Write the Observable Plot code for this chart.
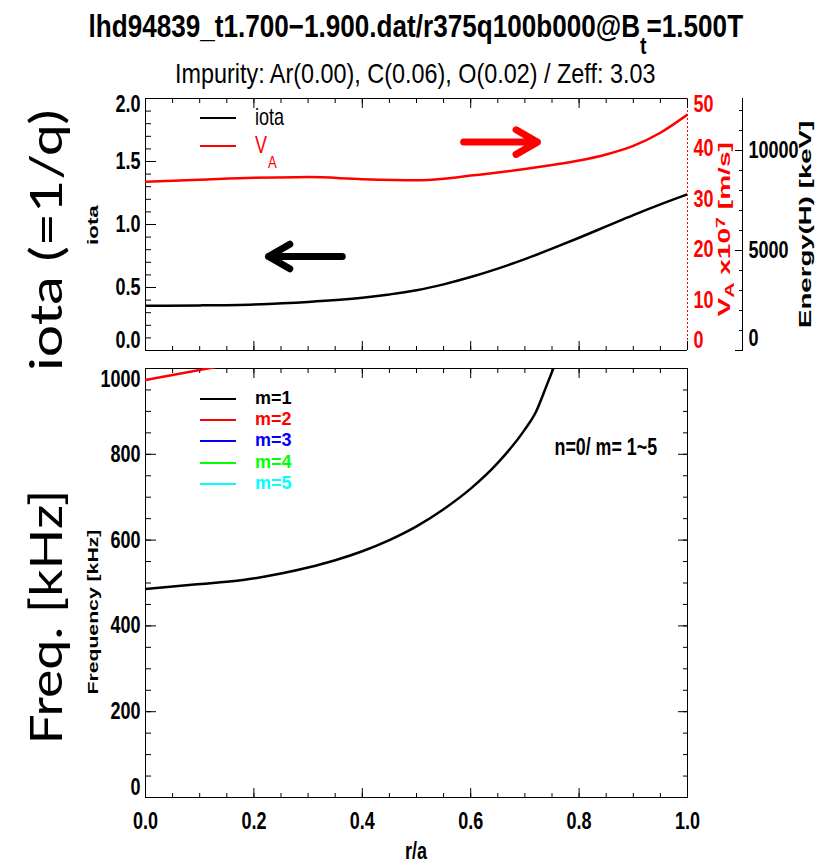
<!DOCTYPE html>
<html><head><meta charset="utf-8">
<script src="https://cdn.jsdelivr.net/npm/d3@7"></script>
<script src="https://cdn.jsdelivr.net/npm/@observablehq/plot@0.6"></script>
<style>
html,body{margin:0;padding:0;background:#fff;}
#wrap{position:relative;width:833px;height:865px;overflow:hidden;background:#fff;}
#wrap svg{position:absolute;left:0;}
</style></head>
<body><div id="wrap"></div>
<script>
// ---------- data ----------
const rhoIota = [0, 0.1, 0.2, 0.3, 0.4, 0.45, 0.5, 0.55, 0.6, 0.65, 0.7, 0.75, 0.8, 0.85, 0.9, 0.95, 1.0];
const iota    = [0.355, 0.358, 0.366, 0.385, 0.418, 0.445, 0.478, 0.525, 0.583, 0.65, 0.725, 0.808, 0.895, 0.985, 1.075, 1.16, 1.24];

const rhoVA = [0, 0.1, 0.2, 0.3, 0.4, 0.5, 0.55, 0.6, 0.65, 0.7, 0.75, 0.8, 0.85, 0.9, 0.95, 1.0];
const vA    = [33.5, 33.9, 34.3, 34.4, 34.0, 33.8, 34.1, 34.7, 35.3, 36.0, 36.8, 37.7, 38.9, 40.6, 43.2, 46.8];

const rhoM1 = [0, 0.09, 0.18, 0.25, 0.3, 0.35, 0.4, 0.45, 0.5, 0.55, 0.6, 0.65, 0.7, 0.72, 0.74, 0.76, 0.78];
const freqM1 = [486, 496.5, 507, 522, 536, 553, 574, 600, 632, 672, 720, 780, 858, 898, 960, 1025, 1095];

const rhoM2 = [0, 0.2];
const freqM2 = [973, 1020];

const xMajor = [0, 0.2, 0.4, 0.6, 0.8, 1.0];
const iotaMajor = [0, 0.5, 1.0, 1.5, 2.0];
const vaMajor = [0, 10, 20, 30, 40, 50];
const energyMajor = [0, 5000, 10000];
const freqMajor = [0, 200, 400, 600, 800, 1000];

const legendTop = ["iota", "V"];
const legendTopColors = ["black", "red"];
const modeNames = ["m=1", "m=2", "m=3", "m=4", "m=5"];
const modeColors = ["black", "red", "blue", "#00ff00", "#00ffff"];

const arrowsX1 = [0.587, 0.363];
const arrowsX2 = [0.723, 0.227];
const arrowsY  = [1.654, 0.746];
const arrowsColor = ["red", "black"];

// ---------- helpers ----------
const wrap = document.getElementById("wrap");
const FONT = "'Liberation Sans', Arial, sans-serif";
const SY = 1.3;
const xMinor = d3.range(0, 1.0001, 0.05);
const iotaMinor = d3.range(0, 2.0001, 0.1);
const energyMinor = d3.range(0, 12600, 1000);
const freqMinor = d3.range(0, 1000.1, 50);

const iotaData = rhoIota.map((r, i) => ({r, v: iota[i]}));
const vaData = rhoVA.map((r, i) => ({r, v: vA[i]}));
const m1Data = rhoM1.map((r, i) => ({r, f: freqM1[i]}));
const m2Data = rhoM2.map((r, i) => ({r, f: freqM2[i]}));
const arrowData = arrowsX1.map((x1, i) => ({x1, x2: arrowsX2[i], y: arrowsY[i], c: arrowsColor[i]}));

const baseStyle = {fontFamily: FONT, fontSize: "18px", fontWeight: "bold", background: "transparent", overflow: "visible", color: "black"};
const noLab = {tickFormat: () => "", label: null};

function stretchText(svg, sy) {
  svg.querySelectorAll("text").forEach(t => {
    const tr = t.getAttribute("transform") || "";
    t.setAttribute("transform", tr + ` scale(1,${sy})`);
  });
}
function place(svg, top) {
  stretchText(svg, SY);
  svg.style.top = top + "px";
  wrap.appendChild(svg);
}
function txt(html, o) {
  const d = document.createElement("div");
  d.innerHTML = html;
  Object.assign(d.style, {position: "absolute", left: o.x + "px", top: o.y + "px", whiteSpace: "nowrap",
    fontFamily: o.family || FONT, fontSize: (o.size || 18) + "px", fontWeight: o.weight || "bold",
    color: o.color || "black", lineHeight: "1", transformOrigin: "0 0"});
  wrap.appendChild(d);
  const w = d.offsetWidth, h = d.offsetHeight;
  const sx = o.len ? o.len / w : 1;
  const sy = o.sy || 1;
  const ax = o.anchor === "start" ? 0 : -w / 2;
  d.style.transform = `${o.rotate ? "rotate(-90deg) " : ""}scale(${sx},${sy}) translate(${ax}px,${-h / 2}px)`;
}
function hline(x1, x2, y, color, w) {
  const d = document.createElement("div");
  Object.assign(d.style, {position: "absolute", left: x1 + "px", top: (y - w / 2) + "px", width: (x2 - x1) + "px", height: w + "px", background: color});
  wrap.appendChild(d);
}

// ---------- top panel (iota) ----------
const topH = 290, topOff = 80;
const topDims = {width: 833, height: topH, marginTop: 18, marginBottom: 20, marginLeft: 145, marginRight: 146};
const fmt1 = d3.format(".1f"), fmtD = d3.format("d");

const topBase = Plot.plot({
  ...topDims,
  x: {domain: [0, 1]}, y: {domain: [0, 2]},
  style: baseStyle,
  marks: [
    Plot.ruleY([2], {stroke: "black"}),
    Plot.ruleY([0], {stroke: "black"}),
    Plot.ruleX([0], {stroke: "black"}),
    Plot.ruleX([1], {stroke: "red", strokeDasharray: "2,2"}),
    Plot.axisX(xMinor, {anchor: "top", tickSize: -4, ...noLab}),
    Plot.axisX(xMajor, {anchor: "top", tickSize: -9, ...noLab}),
    Plot.axisX(xMinor, {anchor: "bottom", tickSize: -4, ...noLab}),
    Plot.axisX(xMajor, {anchor: "bottom", tickSize: -9, ...noLab}),
    Plot.axisY(iotaMinor, {anchor: "left", tickSize: -6, ...noLab}),
    Plot.axisY(iotaMajor, {anchor: "left", tickSize: -11, ...noLab}),
    Plot.axisY(iotaMajor.slice(1, -1), {anchor: "left", tickSize: 0, tickPadding: 5, tickFormat: fmt1, label: null}),
    Plot.axisY([iotaMajor[iotaMajor.length - 1]], {anchor: "left", tickSize: 0, tickPadding: 5, tickFormat: fmt1, label: null, dy: 6}),
    Plot.axisY([iotaMajor[0]], {anchor: "left", tickSize: 0, tickPadding: 5, tickFormat: fmt1, label: null, dy: -10}),
    Plot.line(iotaData, {x: "r", y: "v", stroke: "black", strokeWidth: 2.5, curve: "monotone-x", clip: true}),
    Plot.arrow(arrowData, {x1: "x1", x2: "x2", y1: "y", y2: "y", stroke: "c", strokeWidth: 7, headLength: 5.4, headAngle: 60, strokeLinecap: "round", strokeLinejoin: "round"})
  ]
});
place(topBase, topOff);

const topVA = Plot.plot({
  ...topDims,
  x: {domain: [0, 1], axis: null}, y: {domain: [0, 50]},
  style: baseStyle,
  marks: [
    Plot.line(vaData, {x: "r", y: "v", stroke: "red", strokeWidth: 2.5, curve: "monotone-x", clip: true}),
    Plot.axisY(vaMajor.slice(1, -1), {anchor: "right", tickSize: 0, tickPadding: 6, fill: "red", label: null}),
    Plot.axisY([vaMajor[vaMajor.length - 1]], {anchor: "right", tickSize: 0, tickPadding: 6, fill: "red", label: null, dy: 6}),
    Plot.axisY([vaMajor[0]], {anchor: "right", tickSize: 0, tickPadding: 6, fill: "red", label: null, dy: -10})
  ]
});
place(topVA, topOff);

const topE = Plot.plot({
  ...topDims, marginRight: 91,
  x: {domain: [0, 1], axis: null}, y: {domain: [0, 12600]},
  style: baseStyle,
  marks: [
    Plot.ruleX([1], {stroke: "black"}),
    Plot.axisY(energyMinor, {anchor: "right", tickSize: -4, ...noLab}),
    Plot.axisY(energyMajor, {anchor: "right", tickSize: -8, ...noLab}),
    Plot.axisY(energyMajor.slice(1), {anchor: "right", tickSize: 0, tickPadding: 6, tickFormat: fmtD, label: null}),
    Plot.axisY([energyMajor[0]], {anchor: "right", tickSize: 0, tickPadding: 6, tickFormat: fmtD, label: null, dy: -12})
  ]
});
place(topE, topOff);

// ---------- bottom panel (frequency) ----------
const botOff = 350;
const bot = Plot.plot({
  width: 833, height: 500, marginTop: 18, marginBottom: 53, marginLeft: 145, marginRight: 146,
  x: {domain: [0, 1]}, y: {domain: [0, 1000]},
  style: baseStyle,
  marks: [
    Plot.frame({stroke: "black"}),
    Plot.axisX(xMinor, {anchor: "top", tickSize: -4, ...noLab}),
    Plot.axisX(xMajor, {anchor: "top", tickSize: -9, ...noLab}),
    Plot.axisX(xMinor, {anchor: "bottom", tickSize: -4, ...noLab}),
    Plot.axisX(xMajor, {anchor: "bottom", tickSize: -9, ...noLab}),
    Plot.axisX(xMajor, {anchor: "bottom", tickSize: 0, tickPadding: 15, tickFormat: fmt1, label: null}),
    Plot.axisY(freqMinor, {anchor: "left", tickSize: -6, ...noLab}),
    Plot.axisY(freqMajor, {anchor: "left", tickSize: -11, ...noLab}),
    Plot.axisY(freqMinor, {anchor: "right", tickSize: -5, ...noLab}),
    Plot.axisY(freqMajor, {anchor: "right", tickSize: -10, ...noLab}),
    Plot.axisY(freqMajor.slice(1, -1), {anchor: "left", tickSize: 0, tickPadding: 5, tickFormat: fmtD, label: null}),
    Plot.axisY([freqMajor[freqMajor.length - 1]], {anchor: "left", tickSize: 0, tickPadding: 5, tickFormat: fmtD, label: null, dy: 11}),
    Plot.axisY([freqMajor[0]], {anchor: "left", tickSize: 0, tickPadding: 5, tickFormat: fmtD, label: null, dy: -10}),
    Plot.line(m2Data, {x: "r", y: "f", stroke: "red", strokeWidth: 2.5, clip: true}),
    Plot.line(m1Data, {x: "r", y: "f", stroke: "black", strokeWidth: 2.5, curve: "monotone-x", clip: true})
  ]
});
place(bot, botOff);

// ---------- texts ----------
txt('lhd94839_t1.700\u22121.900.dat/r375q100b000@B<span style="position:relative;top:0.75em;font-size:0.75em">t</span>=1.500T',
  {x: 416, y: 27, size: 22, weight: "bold", sy: 1.4, len: 655});
txt('Impurity: Ar(0.00), C(0.06), O(0.02) / Zeff: 3.03', {x: 415, y: 73, size: 19, weight: "normal", sy: 1.5, len: 480});

txt('iota (=1/q)', {x: 45, y: 240, size: 44, family: "Lato, 'Open Sans', sans-serif", weight: "normal", rotate: true, len: 262});
txt('Freq. [kHz]', {x: 45, y: 617, size: 44, family: "Lato, 'Open Sans', sans-serif", weight: "normal", rotate: true, len: 255});
txt('iota', {x: 93, y: 225, size: 14, rotate: true, len: 40});
txt('Frequency [kHz]', {x: 93, y: 612, size: 14, rotate: true, len: 165});
txt('V<span style="position:relative;top:0.35em;font-size:0.75em">A</span> x10<span style="position:relative;top:-0.4em;font-size:0.7em">7</span> [m/s]',
  {x: 724, y: 229, size: 17, color: "red", rotate: true, len: 175});
txt('Energy(H) [keV]', {x: 805, y: 224, size: 17, rotate: true, len: 208});
txt('r/a', {x: 416, y: 851, size: 18, sy: SY});
txt('n=0/ m= 1~5', {x: 606, y: 447, size: 18, sy: SY, len: 103});

// top legend
legendTop.forEach((name, i) => {
  const y = 118 + i * 28;
  hline(200, 236, y, legendTopColors[i], 2);
  txt(name, {x: 255, y: y - 1, size: 18, weight: "normal", sy: SY, anchor: "start", color: legendTopColors[i]});
});
txt('A', {x: 268, y: 162, size: 13, weight: "normal", sy: SY, anchor: "start", color: "red"});

// bottom legend
modeNames.forEach((name, i) => {
  const y = 399 + i * 21.2;
  hline(200, 236, y, modeColors[i], 2);
  txt(name, {x: 255, y: y - 1, size: 16.5, sy: 1.1, len: 36, anchor: "start", color: modeColors[i]});
});
</script>
</body></html>
